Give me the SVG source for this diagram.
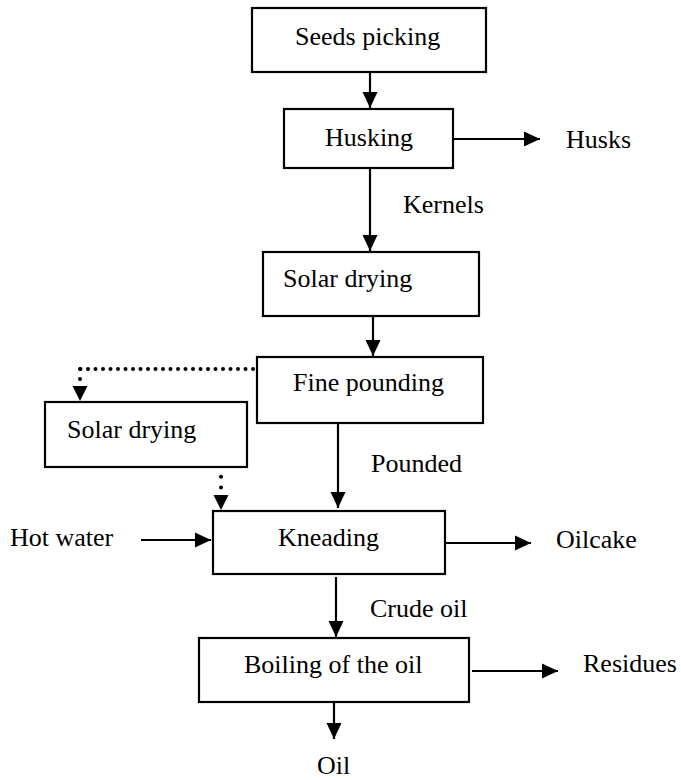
<svg xmlns="http://www.w3.org/2000/svg" width="681" height="780" viewBox="0 0 681 780">
  <style>
    .box { fill: #fff; stroke: #000; stroke-width: 2.2; }
    text { font-family: 'Liberation Serif', 'Times New Roman', Times, serif; font-size: 26px; fill: #000; }
    .flow { fill: none; stroke: #000; stroke-width: 2.2; marker-end: url(#head); }
    .dots { fill: none; stroke: #000; stroke-width: 4; stroke-linecap: round; }
  </style>
  <defs>
    <marker id="head" markerUnits="userSpaceOnUse" markerWidth="18" markerHeight="18" viewBox="0 0 18 18" refX="16" refY="9" orient="auto">
      <path d="M0,1.5 L16,9 L0,16.5 Z" fill="#000"/>
    </marker>
  </defs>
  <rect width="681" height="780" fill="#fff"/>

  <g id="connectors">
    <line class="flow" x1="370" y1="72" x2="370" y2="108"/>
    <line class="flow" x1="453" y1="139" x2="540" y2="139"/>
    <line class="flow" x1="370" y1="168" x2="370" y2="251"/>
    <line class="flow" x1="373" y1="316" x2="373" y2="356"/>
    <line class="flow" x1="338" y1="423" x2="338" y2="508"/>
    <line class="flow" x1="141" y1="540" x2="211" y2="540"/>
    <line class="flow" x1="445" y1="543" x2="531" y2="543"/>
    <line class="flow" x1="336" y1="577" x2="336" y2="637"/>
    <line class="flow" x1="472" y1="671" x2="558" y2="671"/>
    <line class="flow" x1="334" y1="702" x2="334" y2="739"/>
    <!-- dotted branch: fine pounding to side drying -->
    <path class="dots" d="M253,369 H80" stroke-dasharray="0 7.5"/>
    <path class="dots" d="M80,369 V380" stroke-dasharray="0 10"/>
    <path d="M72.5,386 L87.5,386 L80,401 Z" fill="#000"/>
    <!-- dotted return: side drying to kneading -->
    <path class="dots" d="M221,466 V488" stroke-dasharray="0 10.7"/>
    <path d="M213.5,495 L228.5,495 L221,510 Z" fill="#000"/>
  </g>

  <g font-family="'Liberation Serif', 'Times New Roman', Times, serif" font-size="26">
    <g id="seeds-picking">
      <rect class="box" x="252" y="8" width="234" height="64"/>
      <text x="295" y="45">Seeds picking</text>
    </g>
    <g id="husking">
      <rect class="box" x="284" y="109" width="169" height="59"/>
      <text x="325" y="146">Husking</text>
    </g>
    <g id="husks">
      <text x="566" y="148">Husks</text>
    </g>
    <g id="kernels">
      <text x="403" y="213">Kernels</text>
    </g>
    <g id="solar-drying">
      <rect class="box" x="263" y="252" width="216" height="64"/>
      <text x="283" y="287">Solar drying</text>
    </g>
    <g id="fine-pounding">
      <rect class="box" x="257" y="357" width="226" height="66"/>
      <text x="293" y="391">Fine pounding</text>
    </g>
    <g id="solar-drying-2">
      <rect class="box" x="45" y="402" width="202" height="65"/>
      <text x="67" y="438">Solar drying</text>
    </g>
    <g id="pounded">
      <text x="371" y="472">Pounded</text>
    </g>
    <g id="hot-water">
      <text x="10" y="546">Hot water</text>
    </g>
    <g id="kneading">
      <rect class="box" x="213" y="511" width="232" height="63"/>
      <text x="278" y="546">Kneading</text>
    </g>
    <g id="oilcake">
      <text x="556" y="548">Oilcake</text>
    </g>
    <g id="crude-oil">
      <text x="370" y="617">Crude oil</text>
    </g>
    <g id="boiling">
      <rect class="box" x="199" y="638" width="270" height="64"/>
      <text x="244" y="673">Boiling of the oil</text>
    </g>
    <g id="residues">
      <text x="583" y="672">Residues</text>
    </g>
    <g id="oil">
      <text x="317" y="774">Oil</text>
    </g>
  </g>
</svg>
